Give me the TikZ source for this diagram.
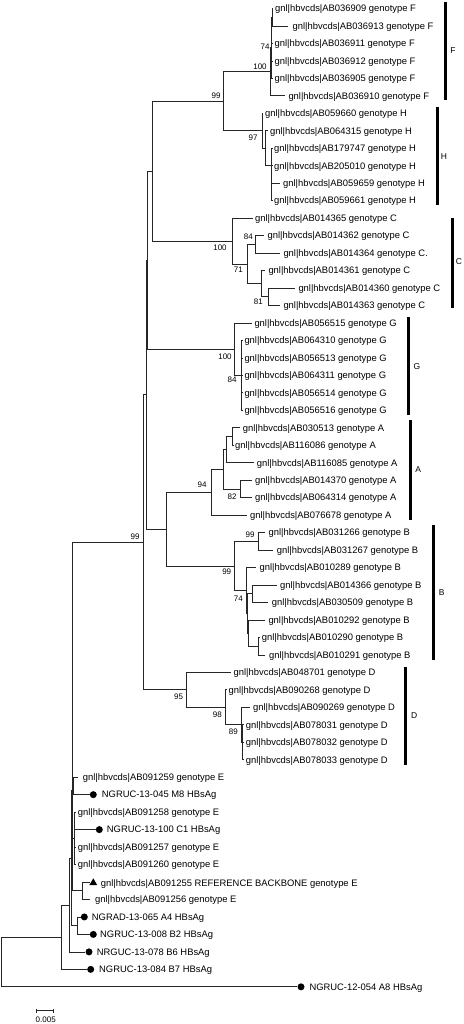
\documentclass[tikz,border=0pt]{standalone}
\usepackage{fontspec}
\setmainfont{Liberation Sans}
\usetikzlibrary{shapes.geometric}
\newcommand\gn{gnl|hbvcds|}
\newcommand\lf[5]{\coordinate (#1) at (#2,#3); \node[lab] (#1t) at (#4,#3) {#5};}
\newcommand\mk[6]{\node[#6] (#1) at (#2,#3) {}; \node[lab] (#1t) at (#4,#3) {#5};}
\begin{document}
\begin{tikzpicture}[x=1pt,y=-1pt,
 br/.style={line width=0.7pt, draw=black!85},
 lab/.style={anchor=base west, inner sep=0pt, font=\fontsize{9.4}{11}\selectfont, yshift=-3.3pt},
 bs/.style={inner sep=0pt, font=\fontsize{8}{9}\selectfont},
 cl/.style={inner sep=0pt, font=\fontsize{8.5}{10}\selectfont},
 clbar/.style={line width=3pt},
 dot/.style={circle, fill=black, inner sep=0pt, minimum size=7pt},
 tri/.style={regular polygon, regular polygon sides=3, fill=black, inner sep=0pt, minimum size=9pt}]
\useasboundingbox (0,0) rectangle (463,1024);
% internal nodes
\coordinate (R) at (1,962);
\coordinate (N1) at (61,937.2);
\coordinate (N2) at (69,905);
\coordinate (N3) at (71.3,858);
\coordinate (T) at (72,790.4);
\coordinate (T0) at (72.8,690);
\coordinate (E1) at (73.5,785.9);
\coordinate (E2) at (74.5,838.3);
\coordinate (E5) at (82.5,890.7);
\coordinate (E6) at (77.3,925.7);
\coordinate (Xb) at (143,542.2);
\coordinate (X3) at (146,394.6);
\coordinate (X2) at (147,260.2);
\coordinate (X1) at (152,171.2);
\coordinate (FH) at (223,101.3);
\coordinate (F100) at (270,71.8);
\coordinate (F74) at (271.3,47.8);
\coordinate (F74a) at (272,17.2);
\coordinate (H97) at (262,130.8);
\coordinate (Hs1) at (265,148.3);
\coordinate (Hs2) at (271,165.7);
\coordinate (Hs3) at (271.7,183.2);
\coordinate (C100) at (232,241.1);
\coordinate (C71) at (247,264);
\coordinate (C84) at (255,244.4);
\coordinate (Cx) at (261,283.7);
\coordinate (C81) at (268,296.8);
\coordinate (G100) at (234,349.2);
\coordinate (G84) at (241,375.4);
\coordinate (AB) at (166,529);
\coordinate (A94) at (211,492.2);
\coordinate (A3) at (223,469.3);
\coordinate (A2) at (226,449.6);
\coordinate (A1) at (232,436.5);
\coordinate (A82) at (240,488.9);
\coordinate (Bn) at (234,565.9);
\coordinate (B99) at (258,541.3);
\coordinate (B74) at (246,590.5);
\coordinate (B74b) at (247.5,613.4);
\coordinate (Ba) at (252,593.7);
\coordinate (Bb) at (248.5,633.1);
\coordinate (Bc) at (258,646.2);
\coordinate (D95) at (186,689.8);
\coordinate (D98) at (225,707.3);
\coordinate (D89) at (241.7,724.8);
\coordinate (D3) at (242.5,742.2);
% leaves
\lf{L0}{272.5}{8.5}{275}{\gn AB036909 genotype F}
\lf{L1}{288}{25.97}{292.5}{\gn AB036913 genotype F}
\lf{L2}{272.5}{43.44}{274.5}{\gn AB036911 genotype F}
\lf{L3}{272.5}{60.91}{274.5}{\gn AB036912 genotype F}
\lf{L4}{272.5}{78.38}{274.5}{\gn AB036905 genotype F}
\lf{L5}{285}{95.85}{288.3}{\gn AB036910 genotype F}
\lf{L6}{263}{113.32}{265}{\gn AB059660 genotype H}
\lf{L7}{268}{130.79}{270}{\gn AB064315 genotype H}
\lf{L8}{272.5}{148.26}{274}{\gn AB179747 genotype H}
\lf{L9}{272.5}{165.73}{274}{\gn AB205010 genotype H}
\lf{L10}{280}{183.2}{283}{\gn AB059659 genotype H}
\lf{L11}{272.5}{200.67}{274}{\gn AB059661 genotype H}
\lf{L12}{253}{218.14}{255}{\gn AB014365 genotype C}
\lf{L13}{264}{235.61}{267.5}{\gn AB014362 genotype C}
\lf{L14}{280}{253.08}{283.3}{\gn AB014364 genotype C.}
\lf{L15}{265}{270.55}{268.3}{\gn AB014361 genotype C}
\lf{L16}{295}{288.02}{298.3}{\gn AB014360 genotype C}
\lf{L17}{280}{305.49}{283.3}{\gn AB014363 genotype C}
\lf{L18}{252}{322.96}{254.3}{\gn AB056515 genotype G}
\lf{L19}{242.5}{340.43}{244.3}{\gn AB064310 genotype G}
\lf{L20}{242.5}{357.9}{244.3}{\gn AB056513 genotype G}
\lf{L21}{242.5}{375.37}{244.3}{\gn AB064311 genotype G}
\lf{L22}{242.5}{392.84}{244.3}{\gn AB056514 genotype G}
\lf{L23}{242.5}{410.31}{244.3}{\gn AB056516 genotype G}
\lf{L24}{240}{427.78}{242.7}{\gn AB030513 genotype A}
\lf{L25}{233.5}{445.25}{235}{\gn AB116086 genotype A}
\lf{L26}{253.5}{462.72}{256.7}{\gn AB116085 genotype A}
\lf{L27}{252}{480.19}{255}{\gn AB014370 genotype A}
\lf{L28}{252}{497.66}{255}{\gn AB064314 genotype A}
\lf{L29}{247}{515.13}{250}{\gn AB076678 genotype A}
\lf{L30}{265}{532.6}{268.5}{\gn AB031266 genotype B}
\lf{L31}{273.3}{550.07}{276.7}{\gn AB031267 genotype B}
\lf{L32}{256}{567.54}{259.5}{\gn AB010289 genotype B}
\lf{L33}{276.7}{585.01}{280}{\gn AB014366 genotype B}
\lf{L34}{268.3}{602.48}{271.7}{\gn AB030509 genotype B}
\lf{L35}{265}{619.95}{268.3}{\gn AB010292 genotype B}
\lf{L36}{259.5}{637.42}{261.7}{\gn AB010290 genotype B}
\lf{L37}{265}{654.89}{269}{\gn AB010291 genotype B}
\lf{L38}{231}{672.36}{233.5}{\gn AB048701 genotype D}
\lf{L39}{226.5}{689.83}{228.5}{\gn AB090268 genotype D}
\lf{L40}{250}{707.3}{253}{\gn AB090269 genotype D}
\lf{L41}{243.5}{724.77}{245.7}{\gn AB078031 genotype D}
\lf{L42}{243.5}{742.24}{245.7}{\gn AB078032 genotype D}
\lf{L43}{243.5}{759.71}{245.7}{\gn AB078033 genotype D}
\lf{L44}{78.3}{777.18}{82.7}{\gn AB091259 genotype E}
\mk{m45}{93.3}{794.65}{101.7}{NGRUC-13-045 M8 HBsAg}{dot}
\lf{L46}{75.5}{812.12}{77.7}{\gn AB091258 genotype E}
\mk{m47}{99.3}{829.59}{106.7}{NGRUC-13-100 C1 HBsAg}{dot}
\lf{L48}{75.5}{847.06}{77.7}{\gn AB091257 genotype E}
\lf{L49}{75.5}{864.53}{77.7}{\gn AB091260 genotype E}
\mk{m50}{93.3}{882.8}{100.7}{\gn AB091255 REFERENCE BACKBONE genotype E}{tri}
\lf{L51}{90}{899.47}{95}{\gn AB091256 genotype E}
\mk{m52}{84.3}{916.94}{91.7}{NGRAD-13-065 A4 HBsAg}{dot}
\mk{m53}{93.3}{934.41}{100}{NGRUC-13-008 B2 HBsAg}{dot}
\mk{m54}{89}{951.88}{96.7}{NRGUC-13-078 B6 HBsAg}{dot}
\mk{m55}{90.7}{969.35}{99}{NGRUC-13-084 B7 HBsAg}{dot}
\mk{m56}{301}{986.82}{309.3}{NGRUC-12-054 A8 HBsAg}{dot}
% branches
\foreach \p/\c in {R/N1,R/m56,N1/N2,N1/m55,N2/N3,N2/m54,N3/T,N3/E6,T/T0,T/E5,
  T0/Xb,T0/E1,T0/E2,E1/L44,E1/m45,E2/L46,E2/m47,E2/L48,E2/L49,E5/m50,E5/L51,
  E6/m52,E6/m53,Xb/X3,Xb/D95,X3/X2,X3/AB,X2/X1,X2/G100,X1/FH,X1/C100,
  FH/F100,FH/H97,F100/F74,F100/L5,F74/F74a,F74/L2,F74/L3,F74/L4,F74a/L0,F74a/L1,
  H97/L6,H97/Hs1,Hs1/L7,Hs1/Hs2,Hs2/L8,Hs2/Hs3,Hs3/L9,Hs3/L10,Hs3/L11,
  C100/L12,C100/C71,C71/C84,C71/Cx,C84/L13,C84/L14,Cx/L15,Cx/C81,C81/L16,C81/L17,
  G100/L18,G100/G84,G84/L19,G84/L20,G84/L21,G84/L22,G84/L23,
  AB/A94,AB/Bn,A94/A3,A94/L29,A3/A2,A3/A82,A2/A1,A2/L26,A1/L24,A1/L25,A82/L27,A82/L28,
  Bn/B99,Bn/B74,B99/L30,B99/L31,B74/L32,B74/B74b,B74b/Ba,B74b/Bb,Ba/L33,Ba/L34,
  Bb/L35,Bb/Bc,Bc/L36,Bc/L37,
  D95/L38,D95/D98,D98/L39,D98/D89,D89/L40,D89/D3,D3/L41,D3/L42,D3/L43}
  \draw[br] (\p) |- (\c);
% bootstrap values
\node[bs] (b1) at (265,47) {74};
\node[bs] (b2) at (260,67) {100};
\node[bs] (b3) at (216,96) {99};
\node[bs] (b4) at (253,138) {97};
\node[bs] (b5) at (220,248) {100};
\node[bs] (b6) at (248.3,236.7) {84};
\node[bs] (b7) at (238.3,270) {71};
\node[bs] (b8) at (258.3,301.7) {81};
\node[bs] (b9) at (225,357) {100};
\node[bs] (b10) at (232,380) {84};
\node[bs] (b11) at (202,485) {94};
\node[bs] (b12) at (232,497) {82};
\node[bs] (b13) at (250,535) {99};
\node[bs] (b14) at (226.7,571.7) {99};
\node[bs] (b15) at (238.3,598.3) {74};
\node[bs] (b16) at (178.5,697) {95};
\node[bs] (b17) at (217.3,715) {98};
\node[bs] (b18) at (233.3,731.7) {89};
\node[bs] (b19) at (135,537) {99};
% clade bars
\coordinate (fa) at (445,2);   \coordinate (fb) at (445,100);
\coordinate (ha) at (437,107); \coordinate (hb) at (437,205);
\coordinate (ca) at (452,218); \coordinate (cb) at (452,308);
\coordinate (ga) at (408,317); \coordinate (gb) at (408,415);
\coordinate (aa) at (410,420); \coordinate (ab) at (410,520);
\coordinate (ba) at (433,525); \coordinate (bb) at (433,660);
\coordinate (da) at (405,667); \coordinate (db) at (405,765);
\draw[clbar] (fa) -- (fb);
\draw[clbar] (ha) -- (hb);
\draw[clbar] (ca) -- (cb);
\draw[clbar] (ga) -- (gb);
\draw[clbar] (aa) -- (ab);
\draw[clbar] (ba) -- (bb);
\draw[clbar] (da) -- (db);
\node[cl] (lF) at (453,51) {F};
\node[cl] (lH) at (444,157) {H};
\node[cl] (lC) at (459,262) {C};
\node[cl] (lG) at (417,367) {G};
\node[cl] (lA) at (418.3,470) {A};
\node[cl] (lB) at (441.7,593) {B};
\node[cl] (lD) at (414.3,716) {D};
% scale bar
\coordinate (s1) at (36.7,1010.7); \coordinate (s2) at (53.3,1010.7);
\draw[br] (s1) -- (s2);
\draw[br] ([yshift=1.8pt]s1) -- ([yshift=-1.8pt]s1);
\draw[br] ([yshift=1.8pt]s2) -- ([yshift=-1.8pt]s2);
\node[bs] (sl) at (45.7,1019.3) {0.005};
\end{tikzpicture}
\end{document}
